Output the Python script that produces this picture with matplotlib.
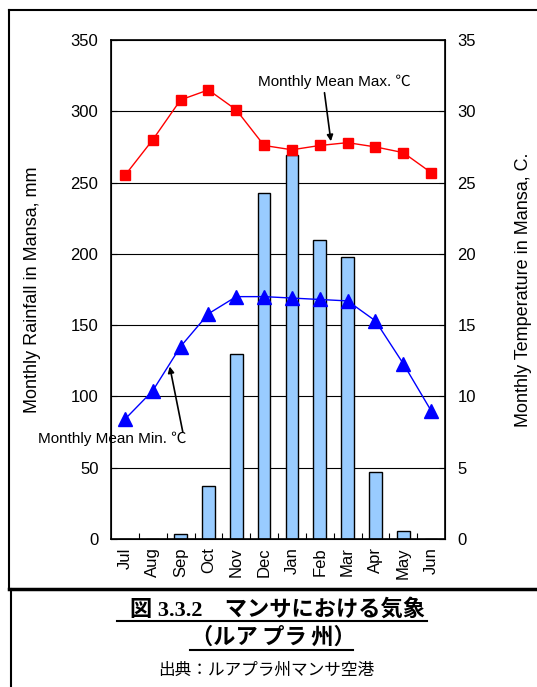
import numpy as np
import matplotlib.pyplot as plt
from matplotlib.lines import Line2D

plt.rcParams['font.family'] = ['Liberation Sans', 'Noto Sans CJK JP']

months = ["Jul", "Aug", "Sep", "Oct", "Nov", "Dec", "Jan", "Feb", "Mar", "Apr", "May", "Jun"]
rainfall = [0, 0, 3.5, 37, 130, 243, 269, 210, 198, 47, 5.5, 0]
temp_max = [25.5, 28.0, 30.8, 31.5, 30.1, 27.6, 27.3, 27.6, 27.8, 27.5, 27.1, 25.7]
temp_min = [8.4, 10.4, 13.5, 15.8, 17.0, 17.0, 16.9, 16.8, 16.7, 15.3, 12.3, 9.0]

fig = plt.figure(figsize=(5.37, 6.87), dpi=100)

x = np.arange(len(months))

ax = fig.add_axes([0.2067, 0.2154, 0.622, 0.7264])
ax.bar(x, rainfall, width=0.45, color="#99CCFF", edgecolor="black", linewidth=1.0, zorder=2)
ax.set_xlim(-0.5, 11.5)
ax.set_ylim(0, 350)
ax.set_yticks(np.arange(0, 351, 50))
for v in range(50, 350, 50):
    ax.axhline(v, color="black", linewidth=0.8, zorder=0)
ax.set_xticks(x)
ax.set_xticklabels(months, rotation=90, fontsize=12)
ax.set_xticks(np.arange(-0.5, 12, 1)[1:-1], minor=True)
ax.tick_params(axis="x", which="major", length=0, pad=6)
ax.tick_params(axis="x", which="minor", direction="in", length=4, width=0.8)
ax.tick_params(axis="y", direction="in", length=4, labelsize=12, pad=9)
ax.set_ylabel("Monthly Rainfall in Mansa, mm", fontsize=13)
ax.yaxis.set_label_coords(-0.21, 0.5)
for s in ax.spines.values():
    s.set_linewidth(1.2)

ax2 = ax.twinx()
ax2.plot(x, temp_max, color="red", linewidth=1.0, marker="s", markersize=7.5,
         markerfacecolor="red", markeredgecolor="red", zorder=3)
ax2.plot(x, temp_min, color="blue", linewidth=1.0, marker="^", markersize=10,
         markerfacecolor="blue", markeredgecolor="blue", zorder=3)
ax2.set_ylim(0, 35)
ax2.set_yticks(np.arange(0, 36, 5))
ax2.tick_params(axis="y", direction="in", length=4, labelsize=12, pad=9)
ax2.set_ylabel("Monthly Temperature in Mansa, C.", fontsize=13)
ax2.yaxis.set_label_coords(1.21, 0.5)

# labels for the two temperature lines with pointer arrows
ax2.text(7.53, 32.05, "Monthly Mean Max. \u2103", fontsize=11, ha="center", va="center")
ax2.annotate("", xy=(7.4, 27.9), xytext=(7.17, 31.3),
             arrowprops=dict(arrowstyle="-|>", color="black", lw=1.2,
                             mutation_scale=9, shrinkA=0, shrinkB=0))
ax2.text(-0.46, 7.0, "Monthly Mean Min. \u2103", fontsize=11, ha="center", va="center")
ax2.annotate("", xy=(1.61, 12.1), xytext=(2.08, 7.5),
             arrowprops=dict(arrowstyle="-|>", color="black", lw=1.2,
                             mutation_scale=9, shrinkA=0, shrinkB=0))

# outer frame and caption box
def fline(xs, ys, lw):
    fig.add_artist(Line2D(xs, ys, transform=fig.transFigure, color="black", linewidth=lw))

fline([0.017, 1.0], [0.985, 0.985], 1.5)
fline([0.017, 0.017], [0.985, 0.143], 1.5)
fline([0.017, 1.0], [0.143, 0.143], 2.5)
fline([0.020, 0.020], [0.143, 0.0], 1.5)

fig.text(0.516, 0.113, "図 3.3.2\u3000マンサにおける気象", fontsize=16, fontweight="bold",
         ha="center", va="center", family=["Liberation Serif", "Noto Sans CJK JP"])
fline([0.218, 0.795], [0.096, 0.096], 1.5)
fig.text(0.510, 0.071, "（ルア\u2009プラ\u2009州）", fontsize=16, fontweight="bold",
         ha="center", va="center")
fline([0.354, 0.657], [0.054, 0.054], 1.5)
fig.text(0.495, 0.025, "出典：ルアプラ州マンサ空港", fontsize=12, ha="center", va="center")

fig.savefig("out.png", dpi=100)
